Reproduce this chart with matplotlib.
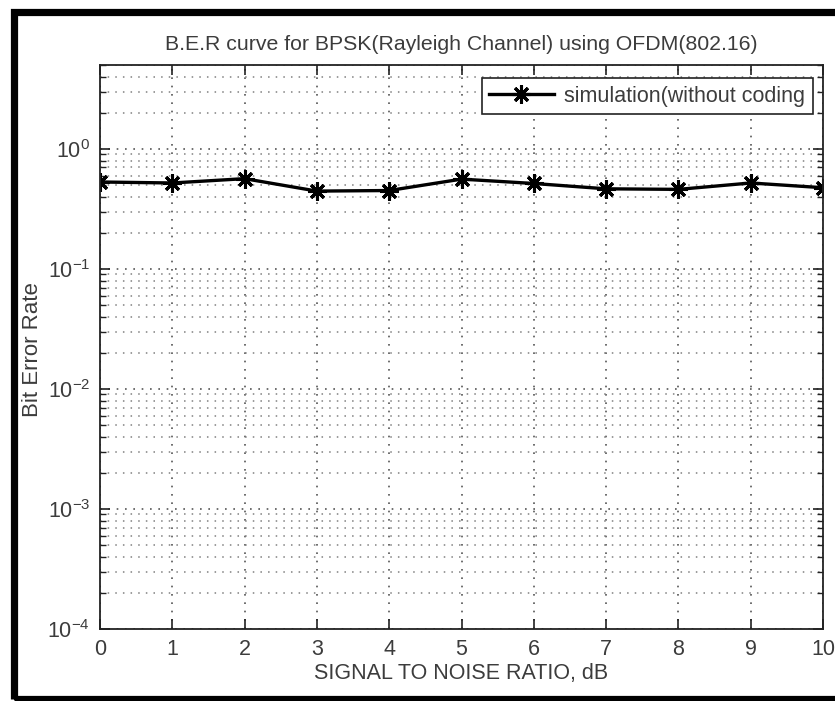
import matplotlib
matplotlib.use("Agg")
import matplotlib.pyplot as plt
from matplotlib.patches import Rectangle
from matplotlib.ticker import LogLocator, NullFormatter

snr_db = [0, 1, 2, 3, 4, 5, 6, 7, 8, 9, 10]
ber = [0.53, 0.52, 0.565, 0.445, 0.45, 0.56, 0.515, 0.465, 0.46, 0.52, 0.475]
series_label = "simulation(without coding"
title_text = "B.E.R curve for BPSK(Rayleigh Channel) using OFDM(802.16)"
xlabel_text = "SIGNAL TO NOISE RATIO, dB"
ylabel_text = "Bit Error Rate"
x_ticks = [0, 1, 2, 3, 4, 5, 6, 7, 8, 9, 10]
x_ticklabels = ["0", "1", "2", "3", "4", "5", "6", "7", "8", "9", "10"]

plt.rcParams['font.family'] = ['Liberation Sans', 'DejaVu Sans']
plt.rcParams['mathtext.default'] = 'regular'
TXT = '#3c3c3c'

W, H = 835, 701
fig = plt.figure(figsize=(W / 100, H / 100), dpi=100)
fig.patch.set_facecolor('white')

L, R, T, B = 100, 823, 65, 629
ax = fig.add_axes([L / W, 1 - B / H, (R - L) / W, (B - T) / H])
ax.set_yscale('log')
ax.plot(snr_db, ber, color='black', lw=2.4, marker=(8, 2, 0), markersize=13,
        markeredgewidth=2.2, label=series_label)
ax.set_xlim(0, 10)
ax.set_ylim(1e-4, 5)
ax.set_xticks(x_ticks)
ax.set_xticklabels(x_ticklabels)
ax.yaxis.set_major_locator(LogLocator(base=10, numticks=10))
ax.yaxis.set_minor_locator(LogLocator(base=10, subs=range(2, 10), numticks=20))
ax.yaxis.set_minor_formatter(NullFormatter())

ax.grid(True, which='major', axis='both', linestyle=(0, (1, 4)), color='#555555', lw=1.2)
ax.grid(True, which='minor', axis='y', linestyle=(0, (1, 4)), color='#808080', lw=1.1)
ax.set_axisbelow(True)

ax.tick_params(which='both', direction='in', top=True, right=True,
               labelsize=15.5, colors='#222222', labelcolor=TXT)
ax.tick_params(which='major', length=7, width=1.2, pad=7)
ax.tick_params(which='minor', length=4, width=1.0)
for s in ax.spines.values():
    s.set_linewidth(1.3)
    s.set_color('#222222')

ax.set_title(title_text, fontsize=15.3, color=TXT, pad=11)
ax.set_xlabel(xlabel_text, fontsize=15.5, color=TXT, labelpad=2)
ax.set_ylabel(ylabel_text, fontsize=16, color=TXT)
ax.yaxis.set_label_coords((43 - L) / (R - L), (B - 350) / (B - T))

leg = ax.legend(loc='upper right', bbox_to_anchor=((813 - L) / (R - L), (B - 78) / (B - T)),
                fontsize=15.5, handlelength=3.0, fancybox=False, framealpha=1,
                edgecolor='#222222', borderaxespad=0.0, borderpad=0.35,
                handletextpad=0.5)
leg.get_frame().set_linewidth(1.2)
for t in leg.get_texts():
    t.set_color(TXT)

border = Rectangle((13.5 / W, 1 - 699 / H), (845 - 13.5) / W, (699 - 11.5) / H,
                   transform=fig.transFigure, fill=False, edgecolor='black',
                   linewidth=5.2, clip_on=False)
fig.patches.append(border)

fig.savefig('out.png', dpi=100)
